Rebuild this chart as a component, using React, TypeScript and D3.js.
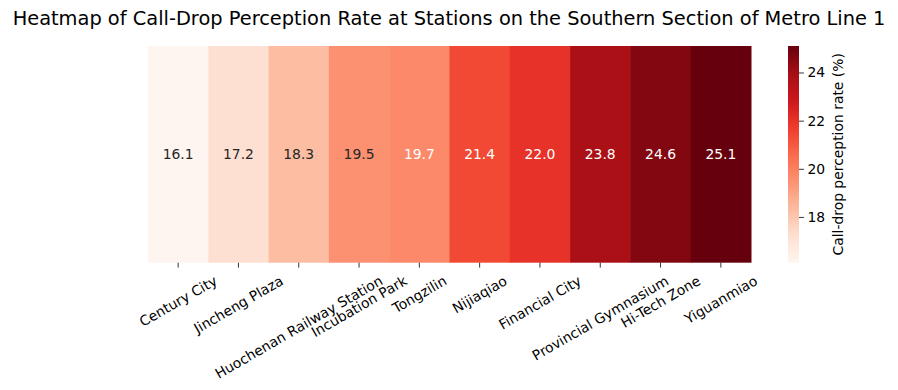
import React, { useRef, useEffect } from 'react';
import * as d3 from 'd3';

const stations = [
  'Century City',
  'Jincheng Plaza',
  'Huochenan Railway Station',
  'Incubation Park',
  'Tongzilin',
  'Nijiaqiao',
  'Financial City',
  'Provincial Gymnasium',
  'Hi-Tech Zone',
  'Yiguanmiao',
];
const rates = [16.1, 17.2, 18.3, 19.5, 19.7, 21.4, 22.0, 23.8, 24.6, 25.1];
const cbarTicks = [18, 20, 22, 24];

// matplotlib "Reds" anchors
const reds = ['#fff5f0', '#fee0d2', '#fcbba1', '#fc9272', '#fb6a4a', '#ef3b2c', '#cb181d', '#a50f15', '#67000d'];

const FONT = 'DejaVu Sans, sans-serif';
const FS = '13.9px';

const App: React.FC = () => {
  const svgRef = useRef<SVGSVGElement | null>(null);

  useEffect(() => {
    if (!svgRef.current) return;
    const W = 898;
    const H = 390;
    const svg = d3.select(svgRef.current);
    svg.selectAll('*').remove();
    svg.attr('width', W).attr('height', H).style('background', '#fff');

    const left = 148, right = 751, top = 46, bottom = 262.7;
    const vmin = d3.min(rates)!;
    const vmax = d3.max(rates)!;

    const t = d3.scaleLinear().domain([vmin, vmax]).range([0, 1]);
    const cmap = d3
      .scaleLinear<string>()
      .domain(reds.map((_, i) => i / (reds.length - 1)))
      .range(reds)
      .interpolate(d3.interpolateRgb);
    const color = (v: number) => cmap(t(v));

    const x = d3.scaleBand().domain(stations).range([left, right]);

    // title
    svg
      .append('text')
      .attr('x', W / 2)
      .attr('y', 25)
      .attr('text-anchor', 'middle')
      .style('font-family', FONT)
      .style('font-size', '19.4px')
      .attr('fill', '#000')
      .text('Heatmap of Call-Drop Perception Rate at Stations on the Southern Section of Metro Line 1');

    // cells
    const g = svg.append('g');
    g.selectAll('rect')
      .data(rates)
      .enter()
      .append('rect')
      .attr('x', (_, i) => x(stations[i])!)
      .attr('y', top)
      .attr('width', x.bandwidth() + 0.5)
      .attr('height', bottom - top)
      .attr('fill', (d) => color(d));

    const lin = (c: number) => {
      const v = c / 255;
      return v <= 0.03928 ? v / 12.92 : Math.pow((v + 0.055) / 1.055, 2.4);
    };

    g.selectAll('text.ann')
      .data(rates)
      .enter()
      .append('text')
      .attr('class', 'ann')
      .attr('x', (_, i) => x(stations[i])! + x.bandwidth() / 2)
      .attr('y', (top + bottom) / 2)
      .attr('dy', '0.35em')
      .attr('text-anchor', 'middle')
      .style('font-family', FONT)
      .style('font-size', FS)
      .attr('fill', (d) => {
        const c = d3.rgb(color(d));
        const lum = 0.2126 * lin(c.r) + 0.7152 * lin(c.g) + 0.0722 * lin(c.b);
        return lum > 0.408 ? '#262626' : '#ffffff';
      })
      .text((d) => d.toFixed(1));

    // x ticks
    const xAxisG = svg.append('g');
    stations.forEach((s) => {
      const cx = x(s)! + x.bandwidth() / 2;
      xAxisG
        .append('line')
        .attr('x1', cx)
        .attr('x2', cx)
        .attr('y1', bottom)
        .attr('y2', bottom + 4.9)
        .attr('stroke', '#000')
        .attr('stroke-width', 0.8);
      const txt = xAxisG
        .append('text')
        .style('font-family', FONT)
        .style('font-size', FS)
        .attr('fill', '#000')
        .attr('text-anchor', 'middle')
        .attr('dominant-baseline', 'central')
        .text(s);
      const w = (txt.node() as SVGTextElement).getComputedTextLength();
      const h = 16;
      const a = Math.PI / 6;
      const bh = w * Math.sin(a) + h * Math.cos(a);
      const cy = bottom + 9.7 + bh / 2;
      txt.attr('x', cx).attr('y', cy).attr('transform', `rotate(-30, ${cx}, ${cy})`);
    });

    // colorbar
    const cbL = 788, cbR = 799;
    const cy = d3.scaleLinear().domain([vmin, vmax]).range([bottom, top]);
    const defs = svg.append('defs');
    const grad = defs
      .append('linearGradient')
      .attr('id', 'cbgrad')
      .attr('x1', 0)
      .attr('y1', 1)
      .attr('x2', 0)
      .attr('y2', 0);
    d3.range(0, 1.0001, 0.05).forEach((p) => {
      grad.append('stop').attr('offset', p).attr('stop-color', cmap(p));
    });
    svg
      .append('rect')
      .attr('x', cbL)
      .attr('y', top)
      .attr('width', cbR - cbL)
      .attr('height', bottom - top)
      .attr('fill', 'url(#cbgrad)');

    const cbAxis = d3.axisRight(cy).tickValues(cbarTicks).tickSize(4.9).tickPadding(3.5).tickFormat(d3.format('d'));
    const cbG = svg.append('g').attr('transform', `translate(${cbR},0)`).call(cbAxis);
    cbG.select('.domain').remove();
    cbG.selectAll('line').attr('stroke', '#000').attr('stroke-width', 0.8);
    cbG.selectAll('text').style('font-family', FONT).style('font-size', FS).attr('fill', '#000');

    svg
      .append('text')
      .attr('transform', `translate(843, ${(top + bottom) / 2}) rotate(-90)`)
      .attr('text-anchor', 'middle')
      .style('font-family', FONT)
      .style('font-size', FS)
      .attr('fill', '#000')
      .text('Call-drop perception rate (%)');
  }, []);

  return (
    <div style={{ margin: -8 }}>
      <svg ref={svgRef} style={{ display: 'block' }} />
    </div>
  );
};

export default App;
